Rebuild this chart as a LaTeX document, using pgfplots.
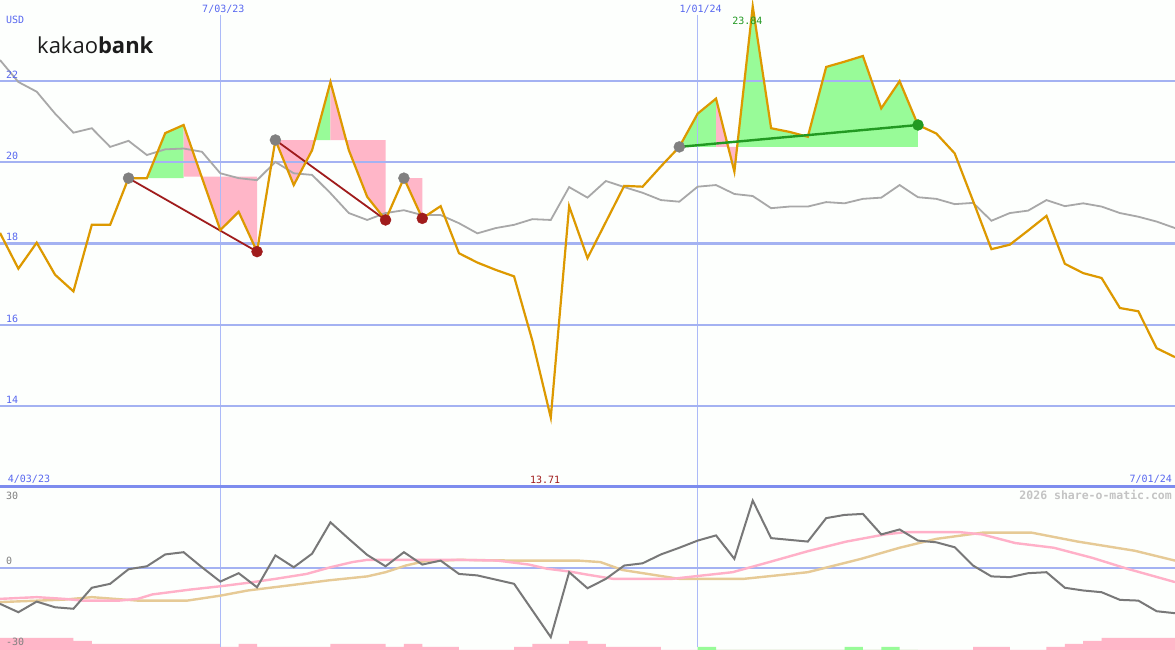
\documentclass[border=0pt]{standalone}
\usepackage{fontspec}
\setmainfont{DejaVu Sans Mono}
\newfontfamily\logofont{Open Sans}
\usepackage{pgfplots}
\usepackage{pgfplotstable}
\pgfplotsset{compat=1.18}

\definecolor{bg}{RGB}{253,255,253}
\definecolor{orangeline}{RGB}{221,153,0}
\definecolor{maline}{RGB}{168,168,168}
\definecolor{gridblue}{RGB}{164,178,242}
\definecolor{vgridblue}{RGB}{172,186,248}
\definecolor{edgeblue}{RGB}{125,140,238}
\definecolor{labelblue}{RGB}{88,104,240}
\definecolor{fillgreen}{RGB}{152,251,152}
\definecolor{fillpink}{RGB}{255,182,200}
\definecolor{darkred}{RGB}{160,28,28}
\definecolor{dotgreen}{RGB}{34,153,34}
\definecolor{dotgrey}{RGB}{128,128,128}
\definecolor{oscgrey}{RGB}{120,120,120}
\definecolor{sigpink}{RGB}{255,176,200}
\definecolor{sigtan}{RGB}{230,202,150}
\definecolor{wmgrey}{RGB}{196,196,196}
\definecolor{logoblack}{RGB}{28,28,28}

% weekly closes (k = week index from 4/10/23) and moving average
\pgfplotstableread{
k price ma
0 18.26 22.52
1 17.38 21.98
2 18.02 21.74
3 17.23 21.20
4 16.82 20.73
5 18.46 20.84
6 18.46 20.38
7 19.61 20.53
8 19.61 20.18
9 20.72 20.32
10 20.92 20.34
11 19.62 20.26
12 18.33 19.73
13 18.78 19.61
14 17.80 19.56
15 20.55 20.01
16 19.44 19.73
17 20.30 19.69
18 21.98 19.24
19 20.30 18.75
20 19.15 18.58
21 18.58 18.75
22 19.61 18.82
23 18.62 18.70
24 18.92 18.70
25 17.76 18.50
26 17.53 18.25
27 17.35 18.38
28 17.19 18.46
29 15.60 18.60
30 13.71 18.58
31 18.92 19.39
32 17.64 19.13
33 18.53 19.54
34 19.42 19.39
35 19.40 19.25
36 19.90 19.07
37 20.38 19.03
38 21.20 19.40
39 21.57 19.44
40 19.77 19.22
41 23.84 19.17
42 20.84 18.87
43 20.75 18.91
44 20.63 18.91
45 22.35 19.02
46 22.48 18.99
47 22.62 19.10
48 21.33 19.13
49 22.00 19.44
50 20.92 19.14
51 20.71 19.10
52 20.22 18.97
53 19.05 19.00
54 17.86 18.56
55 17.97 18.75
56 18.32 18.81
57 18.68 19.07
58 17.50 18.92
59 17.27 18.99
60 17.15 18.91
61 16.41 18.75
62 16.33 18.66
63 15.42 18.54
64 15.20 18.38
}\pricedata

% oscillator in the lower panel
\pgfplotstableread{
k osc
0 -14.3
1 -17.7
2 -13.4
3 -15.7
4 -16.3
5 -7.8
6 -6.2
7 -0.3
8 0.9
9 5.7
10 6.6
11 0.5
12 -5.3
13 -1.9
14 -7.6
15 5.3
16 0.5
17 6.0
18 18.7
19 12.0
20 5.5
21 0.9
22 6.6
23 1.6
24 3.2
25 -2.2
26 -2.8
27 -4.5
28 -6.2
29 -17.0
30 -27.8
31 -1.5
32 -8.0
33 -4.2
34 1.2
35 2.1
36 5.7
37 8.4
38 11.3
39 13.4
40 3.9
41 27.5
42 12.3
43 11.6
44 10.9
45 20.4
46 21.7
47 22.1
48 13.8
49 15.8
50 11.3
51 10.6
52 8.6
53 1.2
54 -3.2
55 -3.5
56 -1.9
57 -1.5
58 -7.8
59 -8.9
60 -9.6
61 -12.7
62 -13.0
63 -17.3
64 -18.1
}\oscdata

\tikzset{lbl/.style={font=\fontsize{10}{12}\selectfont}}

\begin{document}
\begin{tikzpicture}[every node/.style={inner sep=0pt}]
\fill[bg] (0,0) rectangle (1175pt,650pt);

% volume-like bars at the bottom
\begin{axis}[at={(0,0)}, anchor=south west, width=1175pt, height=163pt,
  scale only axis, hide axis, xmin=0, xmax=64, ymin=0, ymax=163]
\addplot[ybar interval, fill=fillpink, draw=none] coordinates {
  (0,12)(4,9)(5,6)(12,3)(13,6)(14,3)(18,6)(21,3)(22,6)(23,3)(25,0)
  (28,3)(29,6)(31,9)(32,6)(33,3)(36,0)(53,3)(55,0)(57,3)(58,6)(59,9)(60,12)(64,12)};
\addplot[ybar interval, fill=fillgreen, draw=none] coordinates {
  (38,3)(39,0)(46,3)(47,0)(48,3)(49,0)(50,0)};
\end{axis}

% lower panel
\begin{axis}[at={(0,0)}, anchor=south west, width=1175pt, height=163pt,
  scale only axis, hide axis, xmin=0, xmax=64, ymin=-33, ymax=33]
\draw[vgridblue, line width=1.5pt] (axis cs:12,-31.6) -- (axis cs:12,33);
\draw[vgridblue, line width=1.5pt] (axis cs:38,-31.6) -- (axis cs:38,33);
\draw[gridblue, line width=2pt] (axis cs:0,0) -- (axis cs:64,0);
\addplot[sigtan, line width=2.4pt] coordinates {
  (0,-13.6)(3.5,-12.6)(5,-11.6)(7.5,-13.0)(10.2,-13.0)(12,-11.0)(13.5,-8.9)
  (15.8,-6.8)(17.9,-4.8)(20,-3.2)(21,-1.5)(22.1,1.2)(23.1,2.9)(25,3.5)(28.1,3.2)
  (31.5,3.2)(32.7,2.6)(33.9,-0.6)(37,-4.2)(40.5,-4.2)(44,-1.5)(46.9,3.9)(49,8.4)
  (51,12.0)(53.5,14.5)(56.2,14.5)(58.7,10.9)(61.8,7.2)(64,3.2)};
\addplot[sigpink, line width=2.4pt] coordinates {
  (0,-12.3)(2,-11.6)(3.5,-12.3)(4.5,-13.0)(6.5,-13.0)(7.5,-12.3)(8.3,-10.5)
  (10.4,-8.5)(12,-7.2)(13.5,-5.8)(15,-4.2)(16.7,-2.2)(18,0.5)(19.2,2.6)(20,3.5)
  (25,3.5)(27.1,3.2)(28.8,1.6)(29.8,-0.1)(31,-1.2)(32,-2.5)(33.4,-4.2)(36.6,-4.2)
  (37.8,-3.2)(39.9,-1.5)(41.9,2.6)(44,7.0)(46.1,10.9)(48.2,13.8)(49.3,14.7)
  (52.3,14.7)(53.5,13.8)(55.3,10.3)(57.4,8.4)(59.5,4.3)(61.4,-0.1)(64,-5.5)};
\addplot[oscgrey, line width=2pt] table[x=k, y=osc] {\oscdata};
\end{axis}

% main price panel
\begin{axis}[at={(0,163pt)}, anchor=south west, width=1175pt, height=487pt,
  scale only axis, hide axis, xmin=0, xmax=64, ymin=12, ymax=24]
% shaded swings
\addplot[fill=fillgreen, draw=none] coordinates {(8,19.61)(9,20.72)(10,20.92)(10,19.61)};
\addplot[fill=fillpink, draw=none] coordinates {(10,20.92)(11,19.62)(12,18.33)(13,18.78)(14,17.80)(14,19.65)(10,19.65)};
\addplot[fill=fillpink, draw=none] coordinates {(15,20.55)(16,19.44)(17,20.30)(17.15,20.55)};
\addplot[fill=fillgreen, draw=none] coordinates {(17.15,20.55)(18,21.98)(18,20.55)};
\addplot[fill=fillpink, draw=none] coordinates {(18,21.98)(19,20.30)(20,19.15)(21,18.58)(21,20.55)(18,20.55)};
\addplot[fill=fillpink, draw=none] coordinates {(22,19.61)(23,18.62)(23,19.61)};
\addplot[fill=fillgreen, draw=none] coordinates {(37,20.38)(38,21.20)(39,21.57)(39,20.38)};
\addplot[fill=fillpink, draw=none] coordinates {(39,21.57)(40,19.77)(40.15,20.38)(39,20.38)};
\addplot[fill=fillgreen, draw=none] coordinates {(40.15,20.38)(41,23.84)(42,20.84)(43,20.75)(44,20.63)(45,22.35)(46,22.48)(47,22.62)(48,21.33)(49,22.00)(50,20.92)(50,20.38)};
% grid
\draw[vgridblue, line width=1.5pt] (axis cs:12,23.63) -- (axis cs:12,12);
\draw[vgridblue, line width=1.5pt] (axis cs:38,23.63) -- (axis cs:38,12);
\draw[gridblue, line width=2.2pt] (axis cs:0,22) -- (axis cs:64,22);
\draw[gridblue, line width=2.2pt] (axis cs:0,20) -- (axis cs:64,20);
\draw[gridblue, line width=2.2pt] (axis cs:0,18) -- (axis cs:64,18);
\draw[gridblue, line width=2.2pt] (axis cs:0,16) -- (axis cs:64,16);
\draw[gridblue, line width=2.2pt] (axis cs:0,14) -- (axis cs:64,14);
% series
\addplot[maline, line width=1.8pt] table[x=k, y=ma] {\pricedata};
\addplot[darkred, line width=1.8pt] coordinates {(7,19.61)(14,17.80)};
\addplot[darkred, line width=1.8pt] coordinates {(15,20.55)(21,18.58)};
\addplot[orangeline, line width=2.2pt] table[x=k, y=price] {\pricedata};
\addplot[dotgreen, line width=2.4pt] coordinates {(37,20.38)(50,20.92)};
\addplot[only marks, mark=*, mark size=5.5pt, dotgrey, mark options={draw=dotgrey, fill=dotgrey}] coordinates {(7,19.61)(15,20.55)(22,19.61)(37,20.38)};
\addplot[only marks, mark=*, mark size=5.5pt, darkred, mark options={draw=darkred, fill=darkred}] coordinates {(14,17.80)(21,18.58)(23,18.62)};
\addplot[only marks, mark=*, mark size=5.5pt, dotgreen, mark options={draw=dotgreen, fill=dotgreen}] coordinates {(50,20.92)};
% labels
\node[lbl, anchor=base west, xshift=6pt, yshift=2.6pt, text=labelblue] at (axis cs:0,22) {22};
\node[lbl, anchor=base west, xshift=6pt, yshift=2.6pt, text=labelblue] at (axis cs:0,20) {20};
\node[lbl, anchor=base west, xshift=6pt, yshift=2.6pt, text=labelblue] at (axis cs:0,18) {18};
\node[lbl, anchor=base west, xshift=6pt, yshift=2.6pt, text=labelblue] at (axis cs:0,16) {16};
\node[lbl, anchor=base west, xshift=6pt, yshift=2.6pt, text=labelblue] at (axis cs:0,14) {14};
\node[lbl, anchor=base, xshift=3pt, yshift=-12.7pt, text=labelblue] at (axis cs:12,24) {7/03/23};
\node[lbl, anchor=base, xshift=3pt, yshift=-12.7pt, text=labelblue] at (axis cs:38,24) {1/01/24};
\node[lbl, anchor=base, xshift=-5.4pt, yshift=-25pt, text=dotgreen] at (axis cs:41,24) {23.84};
\node[lbl, anchor=base, xshift=-5.7pt, yshift=3.7pt, text=darkred] at (axis cs:30,12) {13.71};
\node[lbl, anchor=base west, xshift=7.7pt, yshift=4pt, text=labelblue] at (axis cs:0,12) {4/03/23};
\node[lbl, anchor=base east, xshift=-3pt, yshift=4pt, text=labelblue] at (axis cs:64,12) {7/01/24};
\end{axis}

% panel divider
\draw[edgeblue, line width=3pt] (0,163pt) -- (1175pt,163pt);

% free text
\node[lbl, anchor=base west, text=labelblue] at (6pt,626pt) {USD};
\node[anchor=base west, text=logoblack, font=\logofont\fontsize{22}{24}\selectfont] at (37pt,596.7pt) {kakao\textbf{bank}};
\node[lbl, anchor=base west, text=dotgrey] at (6pt,150pt) {30};
\node[lbl, anchor=base west, text=dotgrey] at (6pt,85pt) {0};
\node[lbl, anchor=base west, text=dotgrey] at (6pt,4pt) {-30};
\node[anchor=base east, text=wmgrey, font=\bfseries\fontsize{11.5}{12}\selectfont] at (1172pt,150pt) {2026 share-o-matic.com};

\pgfresetboundingbox
\path[use as bounding box] (0,0) rectangle (1175pt,650pt);
\end{tikzpicture}
\end{document}
